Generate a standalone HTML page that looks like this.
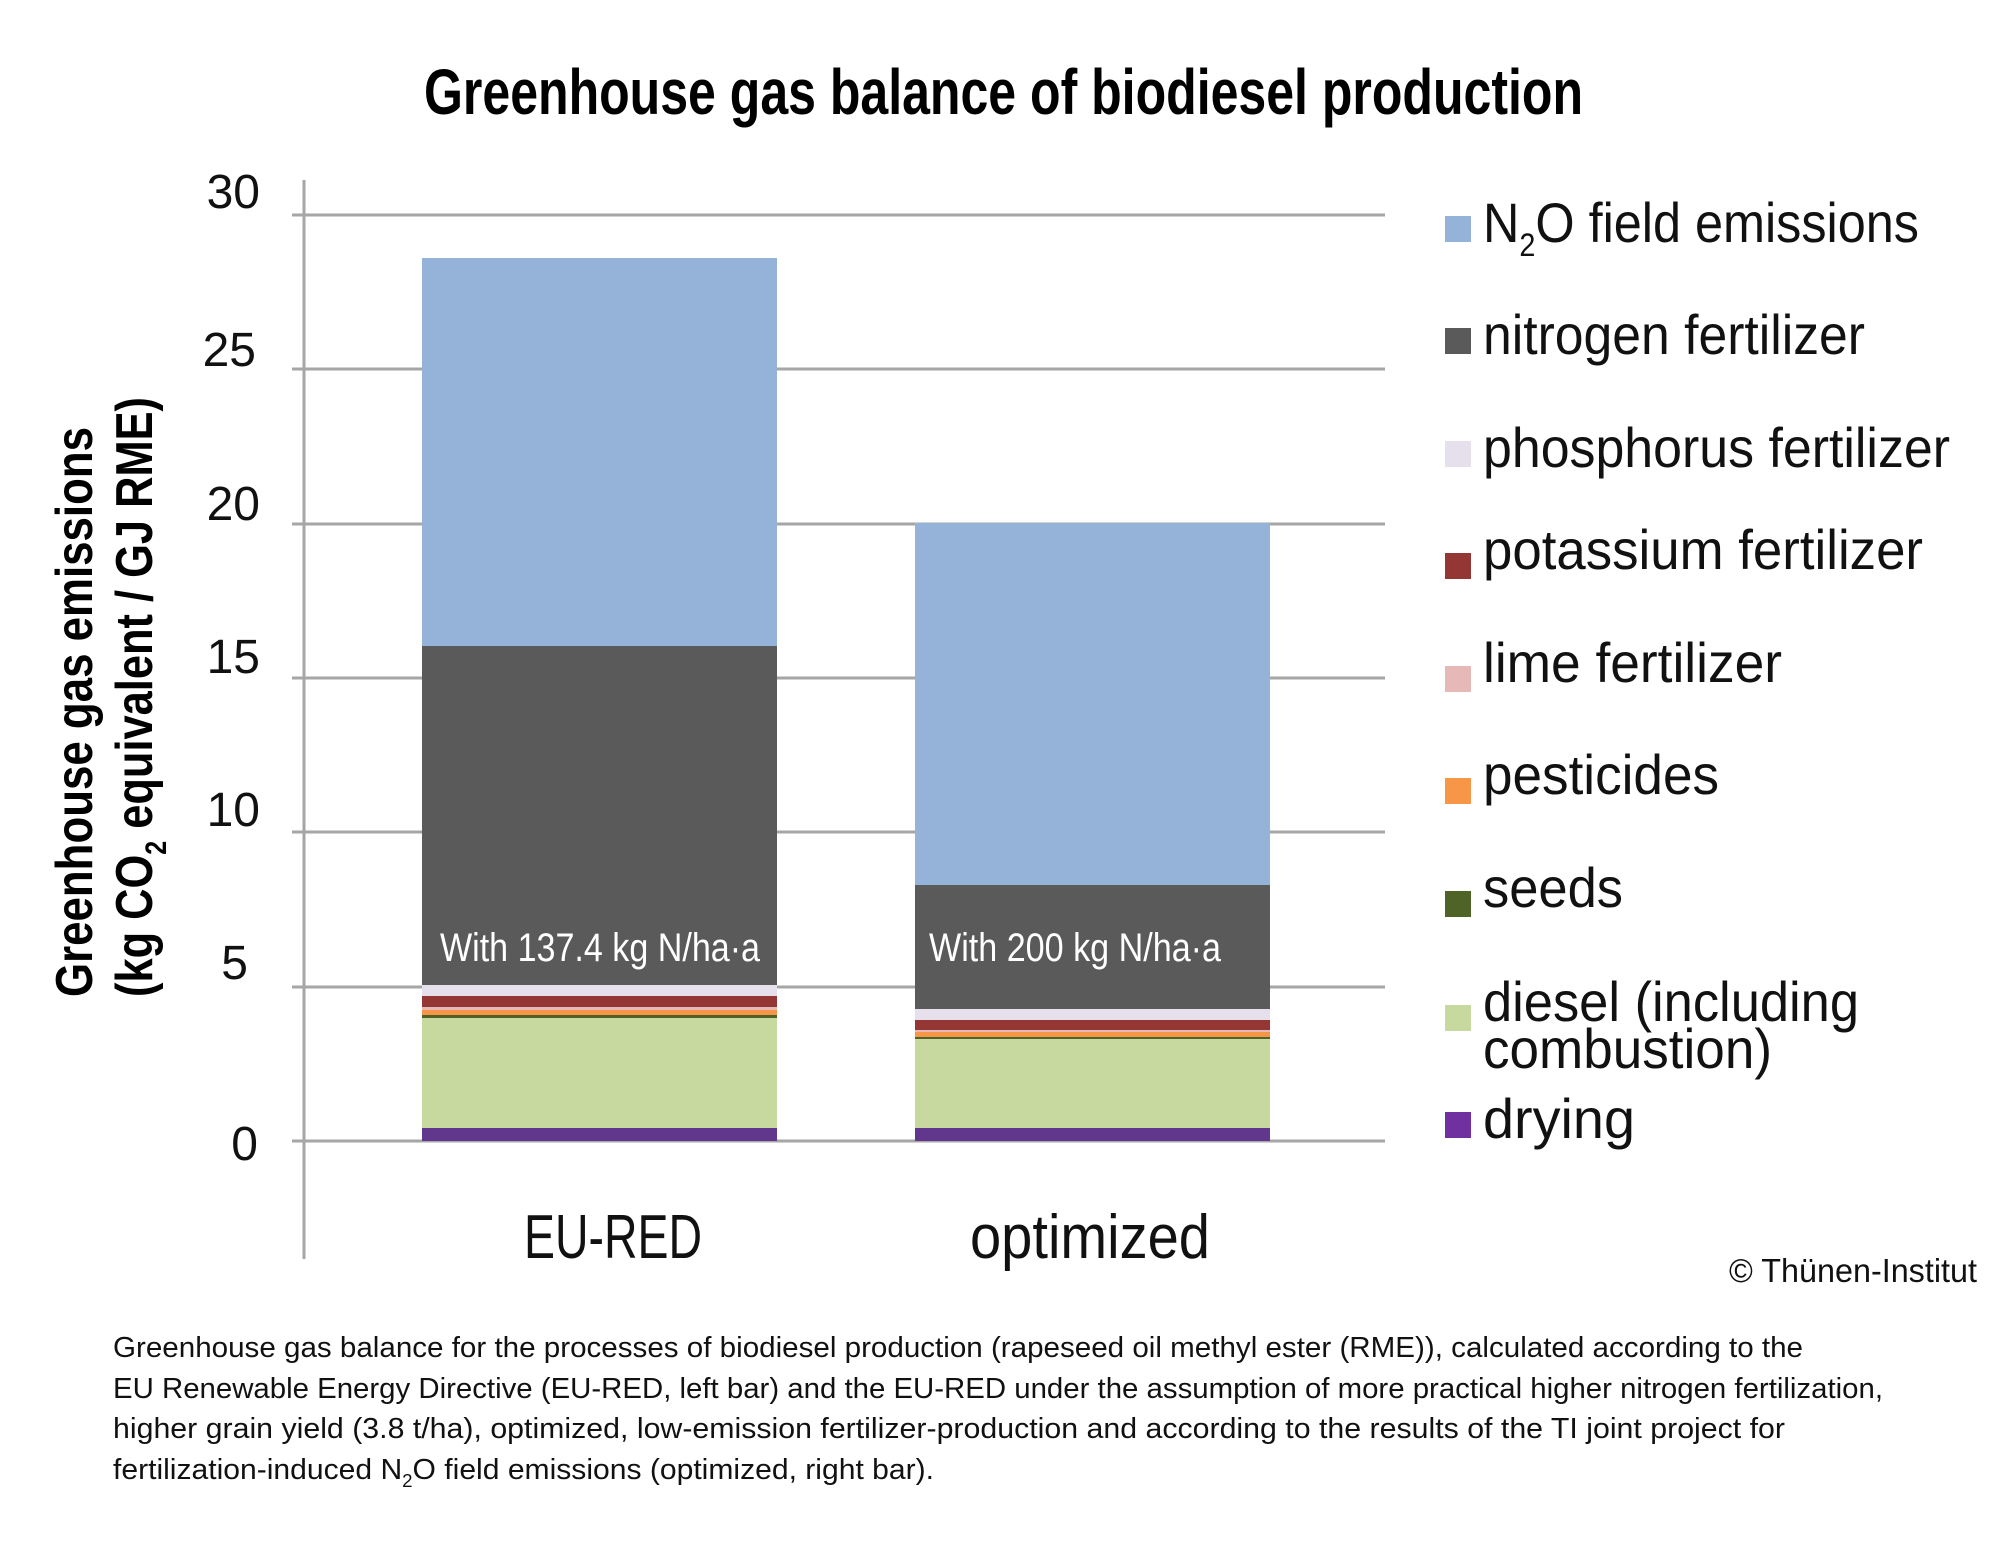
<!DOCTYPE html>
<html><head><meta charset="utf-8"><style>
html,body{margin:0;padding:0;background:#fff;}
svg{display:block;}
text{font-family:"Liberation Sans Narrow","Liberation Sans",sans-serif;}
</style></head><body>
<svg width="2000" height="1551" viewBox="0 0 2000 1551" xmlns="http://www.w3.org/2000/svg">
<rect width="2000" height="1551" fill="#fff"/>
<text x="424" y="114" font-size="64" font-weight="bold" textLength="1159" lengthAdjust="spacingAndGlyphs">Greenhouse gas balance of biodiesel production</text>
<g stroke="#a6a6a6" stroke-width="3">
<line x1="292" y1="1141" x2="1385" y2="1141"/>
<line x1="292" y1="987" x2="1385" y2="987"/>
<line x1="292" y1="832" x2="1385" y2="832"/>
<line x1="292" y1="678" x2="1385" y2="678"/>
<line x1="292" y1="524" x2="1385" y2="524"/>
<line x1="292" y1="369" x2="1385" y2="369"/>
<line x1="292" y1="215" x2="1385" y2="215"/>
<line x1="304" y1="180" x2="304" y2="1259"/>
</g>
<g font-size="48" text-anchor="end" fill="#111" style="font-family:'Liberation Sans',sans-serif">
<text x="260" y="208">30</text><text x="256" y="366">25</text><text x="260" y="520">20</text>
<text x="260" y="673">15</text><text x="260" y="826">10</text><text x="248" y="979">5</text><text x="258" y="1160">0</text>
</g>
<g transform="translate(92,712) rotate(-90)"><text x="0" y="0" font-size="52" font-weight="bold" text-anchor="middle" textLength="570" lengthAdjust="spacingAndGlyphs">Greenhouse gas emissions</text></g>
<g transform="translate(152,697) rotate(-90)"><text x="0" y="0" font-size="52" font-weight="bold" text-anchor="middle" textLength="600" lengthAdjust="spacingAndGlyphs">(kg CO<tspan font-size="30" dy="14">2</tspan><tspan dy="-14"> equivalent / GJ RME)</tspan></text></g>
<!-- left bar -->
<rect x="422" y="258" width="355" height="388" fill="#95b2d9"/>
<rect x="422" y="646" width="355" height="339" fill="#5a5a5a"/>
<rect x="422" y="985" width="355" height="11" fill="#e6dfec"/>
<rect x="422" y="996" width="355" height="11" fill="#943634"/>
<rect x="422" y="1007" width="355" height="3" fill="#e6b9b8"/>
<rect x="422" y="1010" width="355" height="5" fill="#f79646"/>
<rect x="422" y="1015" width="355" height="3" fill="#4f6228"/>
<rect x="422" y="1018" width="355" height="110" fill="#c7d99e"/>
<rect x="422" y="1128" width="355" height="13" fill="#60378c"/>
<!-- right bar -->
<rect x="915" y="523" width="355" height="362" fill="#95b2d9"/>
<rect x="915" y="885" width="355" height="124" fill="#5a5a5a"/>
<rect x="915" y="1009" width="355" height="11" fill="#e6dfec"/>
<rect x="915" y="1020" width="355" height="10" fill="#943634"/>
<rect x="915" y="1030" width="355" height="2" fill="#e6b9b8"/>
<rect x="915" y="1032" width="355" height="5" fill="#f79646"/>
<rect x="915" y="1037" width="355" height="2" fill="#4f6228"/>
<rect x="915" y="1039" width="355" height="89" fill="#c7d99e"/>
<rect x="915" y="1128" width="355" height="13" fill="#60378c"/>
<g fill="#fff" font-size="40" text-anchor="middle">
<text x="600" y="961" textLength="320" lengthAdjust="spacingAndGlyphs">With 137.4 kg N/ha·a</text>
<text x="1075" y="961" textLength="292" lengthAdjust="spacingAndGlyphs">With 200 kg N/ha·a</text>
</g>
<g font-size="62" text-anchor="middle" fill="#111">
<text x="613" y="1258" textLength="178" lengthAdjust="spacingAndGlyphs">EU-RED</text>
<text x="1090" y="1258" textLength="240" lengthAdjust="spacingAndGlyphs">optimized</text>
</g>
<!-- legend -->
<g>
<rect x="1445" y="216" width="26" height="26" fill="#95b2d9"/>
<rect x="1445" y="328" width="26" height="26" fill="#5a5a5a"/>
<rect x="1445" y="441" width="26" height="26" fill="#e6dfec"/>
<rect x="1445" y="553" width="26" height="26" fill="#943634"/>
<rect x="1445" y="666" width="26" height="26" fill="#e6b9b8"/>
<rect x="1445" y="778" width="26" height="26" fill="#f79646"/>
<rect x="1445" y="891" width="26" height="26" fill="#4f6228"/>
<rect x="1445" y="1005" width="26" height="26" fill="#c7d99e"/>
<rect x="1445" y="1112" width="26" height="26" fill="#7030a0"/>
</g>
<g font-size="56" fill="#111">
<text x="1483" y="242" textLength="436" lengthAdjust="spacingAndGlyphs">N<tspan font-size="32" dy="14">2</tspan><tspan dy="-14">O field emissions</tspan></text>
<text x="1483" y="354" textLength="382" lengthAdjust="spacingAndGlyphs">nitrogen fertilizer</text>
<text x="1483" y="467" textLength="467" lengthAdjust="spacingAndGlyphs">phosphorus fertilizer</text>
<text x="1483" y="569" textLength="440" lengthAdjust="spacingAndGlyphs">potassium fertilizer</text>
<text x="1483" y="682" textLength="299" lengthAdjust="spacingAndGlyphs">lime fertilizer</text>
<text x="1483" y="794" textLength="236" lengthAdjust="spacingAndGlyphs">pesticides</text>
<text x="1483" y="907" textLength="140" lengthAdjust="spacingAndGlyphs">seeds</text>
<text x="1483" y="1021" textLength="376" lengthAdjust="spacingAndGlyphs">diesel (including</text>
<text x="1483" y="1068" textLength="289" lengthAdjust="spacingAndGlyphs">combustion)</text>
<text x="1483" y="1138" textLength="152" lengthAdjust="spacingAndGlyphs">drying</text>
</g>
<text x="1977" y="1282" font-size="33" text-anchor="end" fill="#111" textLength="248" lengthAdjust="spacingAndGlyphs">© Thünen-Institut</text>
<g font-size="29" fill="#111">
<text x="113" y="1357" textLength="1690" lengthAdjust="spacingAndGlyphs">Greenhouse gas balance for the processes of biodiesel production (rapeseed oil methyl ester (RME)), calculated according to the</text>
<text x="113" y="1398" textLength="1770" lengthAdjust="spacingAndGlyphs">EU Renewable Energy Directive (EU-RED, left bar) and the EU-RED under the assumption of more practical higher nitrogen fertilization,</text>
<text x="113" y="1438" textLength="1672" lengthAdjust="spacingAndGlyphs">higher grain yield (3.8 t/ha), optimized, low-emission fertilizer-production and according to the results of the TI joint project for</text>
<text x="113" y="1479" textLength="821" lengthAdjust="spacingAndGlyphs">fertilization-induced N<tspan font-size="18" dy="8">2</tspan><tspan dy="-8">O field emissions (optimized, right bar).</tspan></text>
</g>
</svg>
</body></html>
